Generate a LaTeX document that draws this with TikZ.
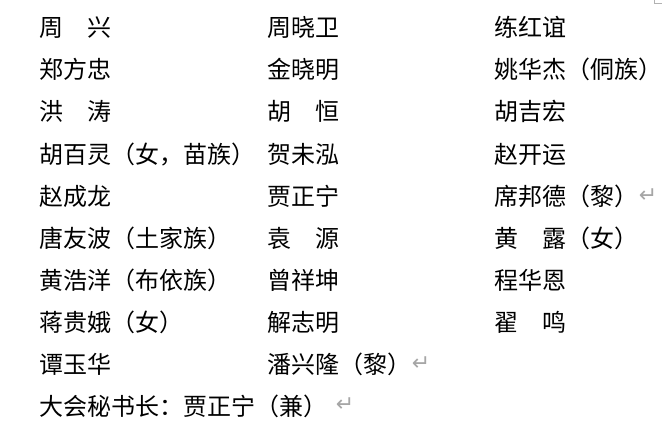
\documentclass[tikz,border=0pt]{standalone}
\usepackage{fontspec}
\newfontfamily\cjk{Noto Sans CJK SC}
\newfontfamily\symfont{DejaVu Sans}
\tikzset{
	member/.style={anchor=base west, inner sep=0pt, font=\cjk\fontsize{24}{28}\selectfont},
	parmark/.style={anchor=center, inner sep=0pt, text=black!35, font=\symfont\fontsize{22}{24}\selectfont}
}
\begin{document}
\begin{tikzpicture}[x=1pt, y=-1pt]
			\useasboundingbox (0,0) rectangle (662,436);
			\draw[black!30, line width=0.6pt] (654,0) -- (654,3) -- (662,3);
			
			\node[member] (a1) at (39, 37) {周　兴};
			\node[member] (b1) at (267, 37) {周晓卫};
			\node[member] (c1) at (494, 37) {练红谊};
			
			\node[member] (a2) at (39, 79) {郑方忠};
			\node[member] (b2) at (267, 79) {金晓明};
			\node[member] (c2) at (494, 79) {姚华杰（侗族）};
			
			\node[member] (a3) at (39, 121) {洪　涛};
			\node[member] (b3) at (267, 121) {胡　恒};
			\node[member] (c3) at (494, 121) {胡吉宏};
			
			\node[member] (a4) at (39, 163) {胡百灵（女，苗族）};
			\node[member] (b4) at (267, 163) {贺未泓};
			\node[member] (c4) at (494, 163) {赵开运};
			
			\node[member] (a5) at (39, 205) {赵成龙};
			\node[member] (b5) at (267, 205) {贾正宁};
			\node[member] (c5) at (494, 205) {席邦德（黎）};
			\node[parmark] (m5) at (648, 196) {↵};
			
			\node[member] (a6) at (39, 247) {唐友波（土家族）};
			\node[member] (b6) at (267, 247) {袁　源};
			\node[member] (c6) at (494, 247) {黄　露（女）};
			
			\node[member] (a7) at (39, 289) {黄浩洋（布依族）};
			\node[member] (b7) at (267, 289) {曾祥坤};
			\node[member] (c7) at (494, 289) {程华恩};
			
			\node[member] (a8) at (39, 331) {蒋贵娥（女）};
			\node[member] (b8) at (267, 331) {解志明};
			\node[member] (c8) at (494, 331) {翟　鸣};
			
			\node[member] (a9) at (39, 373) {谭玉华};
			\node[member] (b9) at (267, 373) {潘兴隆（黎）};
			\node[parmark] (m9) at (421, 364) {↵};
			
			\node[member] (a10) at (39, 415) {大会秘书长：贾正宁（兼）};
			\node[parmark] (m10) at (345, 405) {↵};
\end{tikzpicture}
\end{document}
